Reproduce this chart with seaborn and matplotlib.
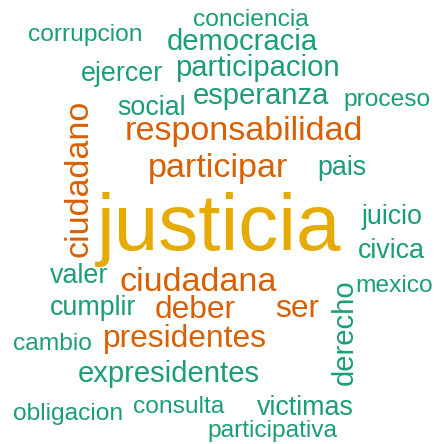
import numpy as np
import matplotlib
matplotlib.use("Agg")
import matplotlib.pyplot as plt
import seaborn as sns

# word frequencies
words = ["justicia",
         "ciudadano", "ciudadana", "participar", "responsabilidad",
         "deber", "ser", "presidentes",
         "democracia", "participacion", "esperanza", "expresidentes", "derecho",
         "ejercer", "social", "pais", "juicio", "civica", "valer", "cumplir", "victimas",
         "corrupcion", "conciencia", "proceso", "mexico", "cambio", "obligacion",
         "consulta", "participativa"]
freqs = [29,
         10, 10, 10, 10,
         9, 9, 9,
         8, 8, 8, 8, 8,
         7, 7, 7, 7, 7, 7, 7, 7,
         6, 6, 6, 6, 6, 6,
         6, 6]

# layout (pixel positions: left x, baseline y, rotation)
layout = {
    "justicia": (97, 250, 0),
    "ciudadano": (88, 257, 90),
    "ciudadana": (120, 291, 0),
    "participar": (148, 177, 0),
    "responsabilidad": (125, 140, 0),
    "deber": (155, 318, 0),
    "ser": (275, 317, 0),
    "presidentes": (103, 347, 0),
    "democracia": (167, 50, 0),
    "participacion": (175, 76, 0),
    "esperanza": (193, 104, 0),
    "expresidentes": (78, 382, 0),
    "derecho": (353, 385, 90),
    "ejercer": (81, 81, 0),
    "social": (117, 115, 0),
    "pais": (317, 175, 0),
    "juicio": (362, 224, 0),
    "civica": (358, 258, 0),
    "valer": (50, 283, 0),
    "cumplir": (50, 315, 0),
    "victimas": (257, 415, 0),
    "corrupcion": (28, 41, 0),
    "conciencia": (193, 26, 0),
    "proceso": (343, 106, 0),
    "mexico": (355, 292, 0),
    "cambio": (13, 350, 0),
    "obligacion": (13, 420, 0),
    "consulta": (133, 413, 0),
    "participativa": (207, 437, 0),
}

sns.set_theme(style="white")
plt.rcParams['font.family'] = ['Liberation Sans', 'DejaVu Sans']
pal = sns.color_palette("Dark2", 8)

freqs = np.array(freqs)
# linear size scale (pixels) and colour bins
sizes_px = np.interp(freqs, [0, freqs.max()], [10, 80])
color_idx = np.digitize(freqs, [9, 20])
colors = [pal[0], pal[1], pal[5]]

fig = plt.figure(figsize=(4.35, 4.44), dpi=100)
ax = fig.add_axes([0, 0, 1, 1])
ax.set_xlim(0, 435)
ax.set_ylim(444, 0)
ax.axis('off')

for w, f, s, ci in zip(words, freqs, sizes_px, color_idx):
    x, y, rot = layout[w]
    ax.text(x, y, w, fontsize=s * 0.72, color=colors[ci],
            ha='left', va='baseline', rotation=rot, rotation_mode='anchor')

plt.savefig('out.png', dpi=100, facecolor='white')
plt.close()
